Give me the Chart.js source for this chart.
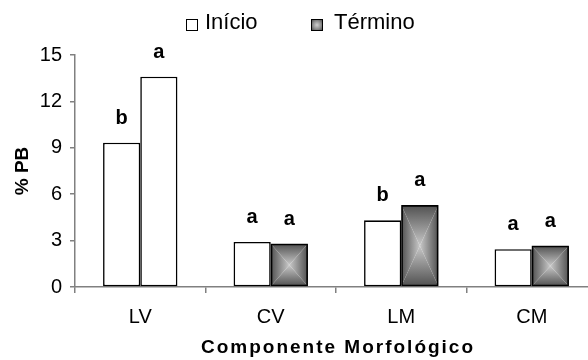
<!DOCTYPE html>
<html>
<head>
<meta charset="utf-8">
<script src="https://cdn.jsdelivr.net/npm/chart.js@4/dist/chart.umd.min.js"></script>
<style>
  html, body { margin: 0; padding: 0; background: #fff; overflow: hidden; width: 588px; height: 360px; }
  #wrap { position: relative; width: 600px; height: 360px; }
  canvas { position: absolute; left: 0; top: 0; }
  .lg { position: absolute; font: 22px "Liberation Sans", Arial, sans-serif; line-height: 22px; color: #000; white-space: nowrap; }
  .box { position: absolute; width: 10px; height: 10px; border: 1.5px solid #000; box-sizing: content-box; }
</style>
</head>
<body>
<div id="wrap">
  <canvas id="c" width="600" height="360"></canvas>
  <div class="box" style="left:186px; top:19px; background:#fff;"></div>
  <div class="lg" style="left:205px; top:11px;">Início</div>
  <div class="box" style="left:311px; top:19px; background: radial-gradient(circle, #cfcfcf 0%, #8a8a8a 60%, #505050 100%);"></div>
  <div class="lg" style="left:334px; top:11px;">Término</div>
</div>
<script>
// ---- data ----
const categories = ['LV', 'CV', 'LM', 'CM'];
const inicio = [9.33, 2.91, 4.31, 2.44];
const termino = [13.6, 2.8, 5.3, 2.67];
const letrasInicio = ['b', 'a', 'b', 'a'];
const letrasTermino = ['a', 'a', 'a', 'a'];
const yTicks = [0, 3, 6, 9, 12, 15];
const xTitle = 'Componente Morfológico';
const yTitle = '% PB';

// style: which Término bars get the shaded fill
const terminoShaded = [false, true, true, true];

const FONT = '"Liberation Sans", Arial, sans-serif';

function drawBoxGradient(ctx, l, t, r, b, edge, center) {
  const cx = (l + r) / 2, cy = (t + b) / 2;
  const tri = (pts, g) => {
    ctx.beginPath();
    ctx.moveTo(pts[0][0], pts[0][1]);
    ctx.lineTo(pts[1][0], pts[1][1]);
    ctx.lineTo(pts[2][0], pts[2][1]);
    ctx.closePath();
    ctx.fillStyle = g;
    ctx.fill();
  };
  let g;
  g = ctx.createLinearGradient(0, t, 0, cy); g.addColorStop(0, edge); g.addColorStop(1, center);
  tri([[l, t], [r, t], [cx, cy]], g);
  g = ctx.createLinearGradient(0, b, 0, cy); g.addColorStop(0, edge); g.addColorStop(1, center);
  tri([[l, b], [r, b], [cx, cy]], g);
  g = ctx.createLinearGradient(l, 0, cx, 0); g.addColorStop(0, edge); g.addColorStop(1, center);
  tri([[l, t], [l, b], [cx, cy]], g);
  g = ctx.createLinearGradient(r, 0, cx, 0); g.addColorStop(0, edge); g.addColorStop(1, center);
  tri([[r, t], [r, b], [cx, cy]], g);
}

const shadePlugin = {
  id: 'shade',
  beforeDatasetDraw(chart, args) {
    if (args.index !== 1) return;
    const ctx = chart.ctx;
    const meta = chart.getDatasetMeta(1);
    ctx.save();
    meta.data.forEach((el, i) => {
      if (!terminoShaded[i]) return;
      const p = el.getProps(['x', 'y', 'base', 'width'], true);
      drawBoxGradient(ctx, p.x - p.width / 2, p.y, p.x + p.width / 2, p.base, '#505050', '#c8c8c8');
    });
    ctx.restore();
  }
};

const letterPlugin = {
  id: 'letters',
  afterDatasetsDraw(chart) {
    const ctx = chart.ctx;
    ctx.save();
    ctx.font = 'bold 20px ' + FONT;
    ctx.fillStyle = '#000';
    ctx.textAlign = 'center';
    ctx.textBaseline = 'alphabetic';
    [letrasInicio, letrasTermino].forEach((letras, d) => {
      chart.getDatasetMeta(d).data.forEach((el, i) => {
        const p = el.getProps(['x', 'y'], true);
        ctx.fillText(letras[i], p.x, p.y - 19);
      });
    });
    ctx.restore();
  }
};

const xTitlePlugin = {
  id: 'xtitle',
  afterDraw(chart) {
    const ctx = chart.ctx;
    const sx = chart.scales.x;
    ctx.save();
    ctx.font = 'bold 19px ' + FONT;
    ctx.fillStyle = '#000';
    ctx.textAlign = 'center';
    ctx.textBaseline = 'alphabetic';
    try { ctx.letterSpacing = '2px'; } catch (e) {}
    ctx.fillText(xTitle, (sx.left + sx.right) / 2 + 2, sx.bottom - 7);
    ctx.restore();
  }
};

new Chart(document.getElementById('c'), {
  type: 'bar',
  data: {
    labels: categories,
    datasets: [
      {
        label: 'Início',
        data: inicio,
        backgroundColor: '#ffffff',
        borderColor: '#000000',
        borderWidth: 1.6,
        borderSkipped: false
      },
      {
        label: 'Término',
        data: termino,
        backgroundColor: ctx => terminoShaded[ctx.dataIndex] ? 'rgba(0,0,0,0)' : '#ffffff',
        borderColor: '#000000',
        borderWidth: 1.6,
        borderSkipped: false
      }
    ]
  },
  options: {
    responsive: false,
    animation: false,
    events: [],
    categoryPercentage: 0.57,
    barPercentage: 1.0,
    layout: { padding: { top: 55, right: 3, left: 0, bottom: 0 } },
    plugins: {
      legend: { display: false },
      tooltip: { enabled: false }
    },
    scales: {
      x: {
        grid: { display: true, drawOnChartArea: false, offset: true, tickLength: 6, color: '#808080', lineWidth: 1.5 },
        border: { display: true, color: '#808080', width: 1.5 },
        ticks: { color: '#000', font: { family: FONT, size: 20 }, padding: 12, maxRotation: 0 },
        afterFit(scale) { scale.height = 73; }
      },
      y: {
        min: 0,
        max: 15,
        afterBuildTicks(scale) { scale.ticks = yTicks.map(v => ({ value: v })); },
        grid: { display: true, drawOnChartArea: false, tickLength: 5, color: '#808080', lineWidth: 1.5 },
        border: { display: true, color: '#808080', width: 1.5 },
        ticks: { color: '#000', font: { family: FONT, size: 20 }, padding: 8 },
        title: { display: true, text: yTitle, color: '#000', font: { family: FONT, size: 19, weight: 'bold' }, padding: { top: 11, bottom: 0 } },
        afterFit(scale) { scale.width = 75; }
      }
    }
  },
  plugins: [shadePlugin, letterPlugin, xTitlePlugin]
});
</script>
</body>
</html>
